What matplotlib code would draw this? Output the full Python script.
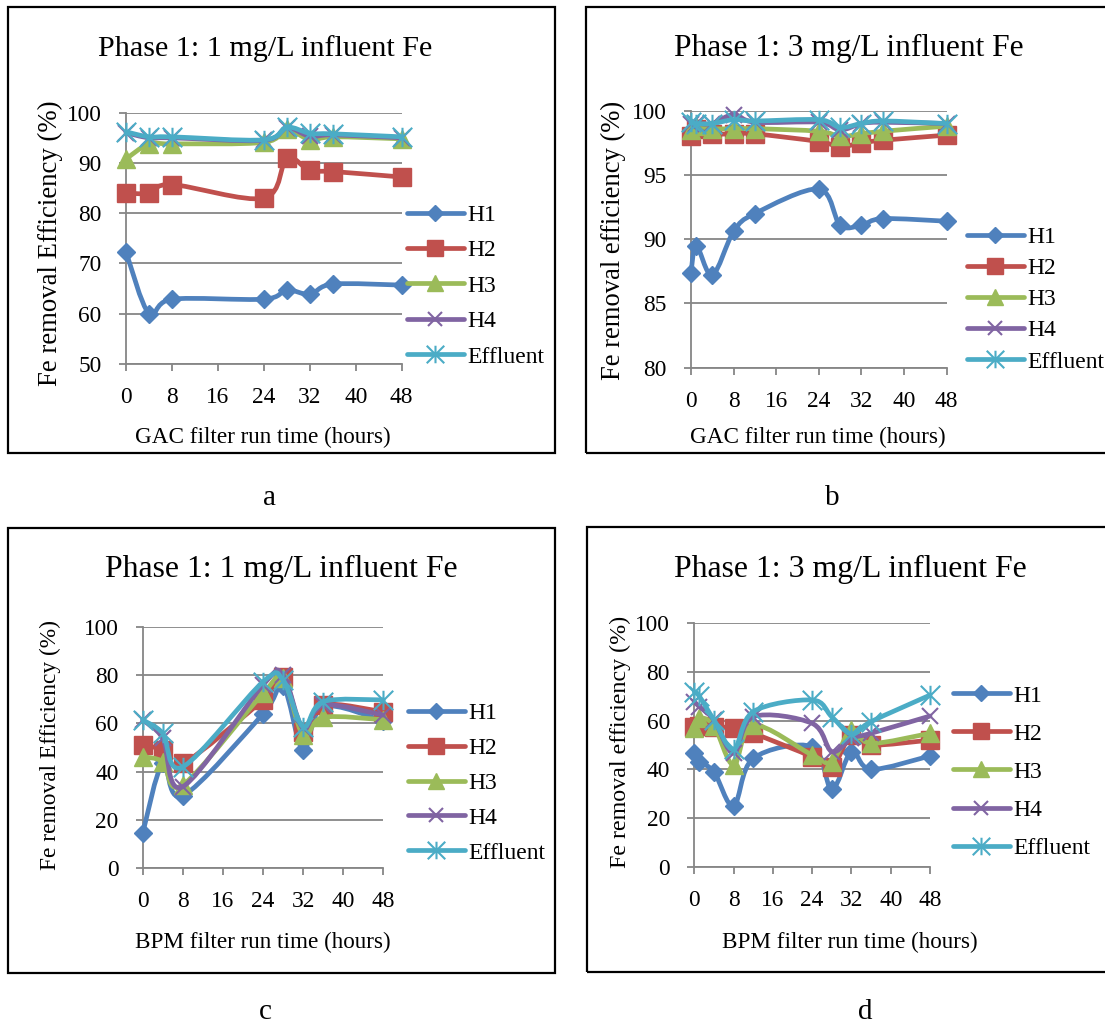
import numpy as np
import matplotlib
matplotlib.use("Agg")
import matplotlib.pyplot as plt
from matplotlib.path import Path
from matplotlib.patches import PathPatch, Rectangle
from matplotlib.lines import Line2D

plt.rcParams['font.family'] = ['Liberation Serif', 'DejaVu Serif']

# ---------------- data ----------------
series_names = ["H1", "H2", "H3", "H4", "Effluent"]

a_time = [0, 4, 8, 24, 28, 32, 36, 48]
a_H1 = [72.3, 60.0, 62.9, 62.9, 64.7, 63.9, 65.9, 65.7]
a_H2 = [84.0, 84.0, 85.7, 83.0, 90.9, 88.5, 88.3, 87.2]
a_H3 = [90.8, 93.8, 93.8, 94.1, 96.7, 94.6, 95.2, 94.8]
a_H4 = [96.0, 95.0, 95.0, 94.5, 97.0, 95.3, 95.6, 95.0]
a_Eff = [96.2, 95.2, 95.2, 94.6, 97.1, 95.9, 95.8, 95.2]

b_time = [0, 1, 4, 8, 12, 24, 28, 32, 36, 48]
b_H1 = [87.4, 89.5, 87.2, 90.6, 92.0, 93.9, 91.1, 91.1, 91.6, 91.4]
b_H2 = [98.0, 98.6, 98.2, 98.2, 98.2, 97.6, 97.2, 97.5, 97.7, 98.1]
b_H3 = [98.5, 98.8, 98.6, 98.6, 98.6, 98.4, 98.0, 98.2, 98.4, 98.8]
b_H4 = [99.0, 99.0, 99.0, 99.7, 99.1, 99.1, 98.5, 99.0, 99.1, 99.0]
b_Eff = [99.1, 99.0, 99.0, 99.3, 99.2, 99.3, 98.7, 99.0, 99.2, 99.0]

c_time = [0, 4, 8, 24, 28, 32, 36, 48]
c_H1 = [14.5, 43.4, 30.0, 63.9, 75.5, 49.0, 66.9, 61.0]
c_H2 = [51.0, 49.0, 43.4, 69.7, 79.3, 56.6, 67.6, 64.8]
c_H3 = [46.2, 44.1, 34.5, 72.4, 78.6, 55.2, 62.5, 61.5]
c_H4 = [61.4, 53.8, 33.8, 75.9, 80.0, 57.9, 67.6, 63.4]
c_Eff = [61.4, 55.9, 42.0, 77.2, 77.9, 58.6, 69.0, 69.7]

d_time = [0, 1, 4, 8, 12, 24, 28, 32, 36, 48]
d_H1 = [46.6, 43.2, 39.0, 24.9, 44.5, 49.3, 31.8, 47.3, 40.0, 45.5]
d_H2 = [57.5, 58.0, 57.5, 57.0, 54.8, 45.2, 41.0, 54.0, 50.0, 52.0]
d_H3 = [56.8, 61.0, 58.0, 41.8, 58.2, 45.9, 43.2, 56.2, 50.7, 54.8]
d_H4 = [67.8, 65.8, 60.3, 46.6, 61.6, 58.9, 47.3, 52.7, 54.8, 61.9]
d_Eff = [71.9, 70.1, 60.3, 48.2, 63.7, 68.5, 61.6, 54.5, 59.6, 70.5]

x_ticks = [0, 8, 16, 24, 32, 40, 48]
titles = ["Phase 1: 1 mg/L influent Fe", "Phase 1: 3 mg/L influent Fe",
          "Phase 1: 1 mg/L influent Fe", "Phase 1: 3 mg/L influent Fe"]
xlabels = ["GAC filter run time (hours)", "GAC filter run time (hours)",
           "BPM filter run time (hours)", "BPM filter run time (hours)"]
ylabels = ["Fe removal Efficiency (%)", "Fe removal efficiency (%)",
           "Fe removal Efficiency (%)", "Fe removal efficiency (%)"]
panel_letters = ["a", "b", "c", "d"]

# ---------------- styles ----------------
W, H = 1105, 1026
colors = ["#4F81BD", "#C0504D", "#9BBB59", "#8064A2", "#4BACC6"]
star = Path([(-1, -1), (1, 1), (-1, 1), (1, -1), (0, -1), (0, 1)],
            [Path.MOVETO, Path.LINETO, Path.MOVETO, Path.LINETO, Path.MOVETO, Path.LINETO])
mstyles = [dict(marker="D", ms=9.5, mew=1),
           dict(marker="s", ms=12.5, mew=1),
           dict(marker="^", ms=13, mew=1),
           dict(marker="x", ms=11, mew=1.5),
           dict(marker=star, ms=14, mew=1.5)]
LW = 3.4
GRAY = "#868686"

fig = plt.figure(figsize=(W / 100, H / 100), dpi=100)


def fx(px):
    return px / W


def fy(py):
    return 1 - py / H


def smooth_path(x, y):
    pts = np.column_stack([x, y]).astype(float)
    n = len(pts)
    verts = [pts[0]]
    codes = [Path.MOVETO]
    for i in range(n - 1):
        p0 = pts[i - 1] if i > 0 else pts[i]
        p1 = pts[i]
        p2 = pts[i + 1]
        p3 = pts[i + 2] if i + 2 < n else pts[i + 1]
        c1 = p1 + (p2 - p0) / 6.0
        c2 = p2 - (p3 - p1) / 6.0
        verts += [c1, c2, p2]
        codes += [Path.CURVE4] * 3
    return Path(np.array(verts), codes)


panels = [
    dict(t=a_time, ys=[a_H1, a_H2, a_H3, a_H4, a_Eff], ylim=(50, 100), yt=np.arange(50, 101, 10),
         box=(8, 7, 555, 453), ax=(126, 401.7, 112.7, 364),
         title=(265, 56, 21.7), ylab=(50, 243, 19.3), xlab=(263, 443), letter=(270, 505),
         leg=(407, 286, 0.59)),
    dict(t=b_time, ys=[b_H1, b_H2, b_H3, b_H4, b_Eff], ylim=(80, 100), yt=np.arange(80, 101, 5),
         box=(586, 7, 1110, 453), ax=(691, 946.7, 110.7, 367.7),
         title=(849, 56, 22.7), ylab=(613, 240, 19.2), xlab=(818, 443), letter=(832, 505),
         leg=(967, 299.5, 0.41)),
    dict(t=c_time, ys=[c_H1, c_H2, c_H3, c_H4, c_Eff], ylim=(0, 100), yt=np.arange(0, 101, 20),
         box=(8, 528, 555, 973), ax=(142.7, 383.3, 626.7, 868.3),
         title=(281, 577, 22.9), ylab=(50, 745, 16.8), xlab=(263, 948), letter=(265, 1019),
         leg=(408, 783, 0.57)),
    dict(t=d_time, ys=[d_H1, d_H2, d_H3, d_H4, d_Eff], ylim=(0, 100), yt=np.arange(0, 101, 20),
         box=(587, 527, 1110, 972), ax=(694.3, 930, 623.3, 866.7),
         title=(850, 577, 22.9), ylab=(620, 742, 17.3), xlab=(850, 948), letter=(865, 1019),
         leg=(953, 772, 0.70)),
]

for k, p in enumerate(panels):
    x0, y0, x1, y1 = p["box"]
    fig.add_artist(Rectangle((fx(x0), fy(y1)), (x1 - x0) / W, (y1 - y0) / H,
                             transform=fig.transFigure, fill=False, ec="black", lw=1.6))
    l, r, t, b = p["ax"]
    ax = fig.add_axes([fx(l), fy(b), (r - l) / W, (b - t) / H])
    ax.set_xlim(0, 48)
    ax.set_ylim(*p["ylim"])
    ax.set_xticks(x_ticks)
    ax.set_yticks(p["yt"])
    ax.grid(axis="y", color=GRAY, lw=1.3)
    ax.set_axisbelow(True)
    for s in ["top", "right"]:
        ax.spines[s].set_visible(False)
    for s in ["left", "bottom"]:
        ax.spines[s].set_color(GRAY)
        ax.spines[s].set_linewidth(1.3)
    ax.tick_params(axis="both", direction="out", length=5, width=1.3, color=GRAY,
                   labelsize=16.8, labelcolor="black")
    ax.tick_params(axis="y", pad=12.5)
    ax.tick_params(axis="x", pad=11.5)

    handles = []
    for i, (yv, c, ms) in enumerate(zip(p["ys"], colors, mstyles)):
        patch = PathPatch(smooth_path(p["t"], yv), fc="none", ec=c, lw=LW,
                          capstyle="round", joinstyle="round", clip_on=False, zorder=3 + 2 * i)
        ax.add_patch(patch)
        filled = ms["marker"] in ("D", "s", "^")
        ax.plot(p["t"], yv, ls="none", marker=ms["marker"], ms=ms["ms"], mew=ms["mew"],
                mfc=c if filled else "none", mec=c, clip_on=False, zorder=4 + 2 * i)
        handles.append(Line2D([], [], color=c, lw=LW, solid_capstyle="round",
                              marker=ms["marker"], ms=ms["ms"] * 0.9, mew=ms["mew"],
                              mfc=c if filled else "none", mec=c))

    lx, lyc, lsp = p["leg"]
    ax.legend(handles, series_names, loc="center left", bbox_to_anchor=(fx(lx), fy(lyc)),
              bbox_transform=fig.transFigure, frameon=False, fontsize=17,
              handlelength=2.4, handletextpad=0.15, labelspacing=lsp,
              borderpad=0, borderaxespad=0)

    ax.set_xlabel(xlabels[k], fontsize=16.7, va="baseline")
    ax.xaxis.set_label_coords(fx(p["xlab"][0]), fy(p["xlab"][1]), transform=fig.transFigure)
    ax.set_ylabel(ylabels[k], fontsize=p["ylab"][2], va="center", ha="center")
    ax.yaxis.set_label_coords(fx(p["ylab"][0]), fy(p["ylab"][1]), transform=fig.transFigure)

    tx, ty, ts = p["title"]
    fig.text(fx(tx), fy(ty), titles[k], fontsize=ts, ha="center", va="baseline")
    lx2, ly2 = p["letter"]
    fig.text(fx(lx2), fy(ly2), panel_letters[k], fontsize=21, ha="center", va="baseline")

fig.savefig("out.png", dpi=100)
